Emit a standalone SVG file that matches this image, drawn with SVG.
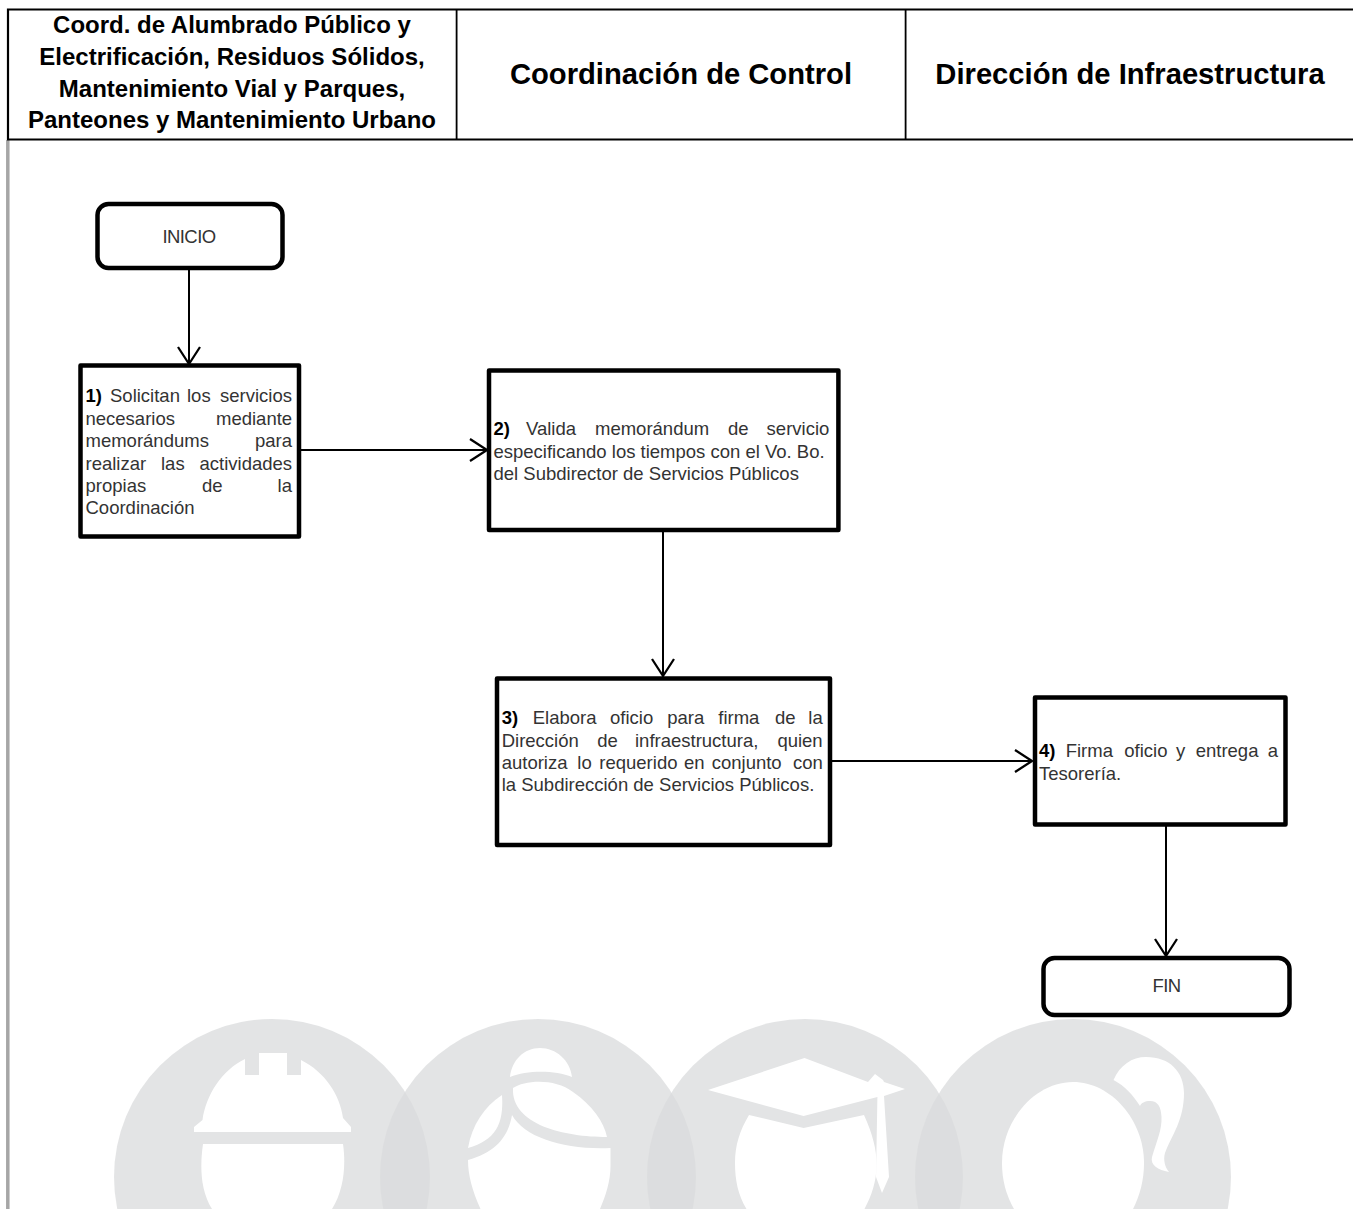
<svg xmlns="http://www.w3.org/2000/svg" width="1353" height="1209" viewBox="0 0 1353 1209">
<style>
text{font-family:"Liberation Sans",Arial,sans-serif}
.h{font-weight:700;fill:#000;text-anchor:middle}
.h1{font-size:24px}
.h2{font-size:29.200px}
.t{font-size:18.500px;fill:#333}
.c{font-size:18.500px;fill:#333;text-anchor:middle;letter-spacing:-.6px}
.n{font-weight:700;fill:#000}
.box{fill:#fff;stroke:#000;stroke-width:4.500;stroke-linejoin:round}
.w{fill:#fff}
.bg{fill:#dadbdc;fill-opacity:.75}
.conn{stroke:#000;stroke-width:2;fill:none;marker-end:url(#arr)}
</style>
<defs>
<marker id="arr" markerUnits="userSpaceOnUse" markerWidth="20" markerHeight="26" refX="18" refY="12" orient="auto" overflow="visible">
<path d="M1,1 L18,12 L1,23" fill="none" stroke="#000" stroke-width="2.300"/>
</marker>
</defs>
<rect width="1353" height="1209" fill="#fff"/>
<g id="watermark">
<circle class="bg" cx="272" cy="1177" r="158"/>
<circle class="bg" cx="538" cy="1177" r="158"/>
<circle class="bg" cx="805" cy="1177" r="158"/>
<circle class="bg" cx="1073" cy="1177" r="158"/>
<path class="w" d="M259,1053H287V1075H301V1060C325,1072 340,1095 343,1118L351,1127V1132H194V1127L202.500,1120C206,1095 222,1070 245,1059V1075H259Z"/>
<path class="w" d="M203,1144H343C346,1165 344,1190 332,1209H212C200,1190 200,1165 203,1144Z"/>
<path class="w" d="M510,1077C512,1060 524,1048 540,1048C556,1048 570,1060 572,1077C555,1070 527,1070 510,1077Z"/>
<path class="w" d="M513,1088C525,1080 555,1078 573,1092C592,1105 604,1122 607,1137C565,1137 511,1125 513,1088Z"/>
<path class="w" d="M502,1095C504,1125 495,1140 468,1148C472,1125 484,1107 502,1095Z"/>
<path class="w" d="M512,1115C525,1138 565,1150 610.500,1148V1163C611,1180 606,1195 600,1209H480.500C472,1190 468,1175 468,1160C495,1152 508,1138 512,1115Z"/>
<path class="w" d="M804.500,1058L868,1082L875,1074L883,1080L884,1082L905,1089L884,1096L889,1177L882,1193L876,1177L877.400,1097L803.600,1116L708,1090Z"/>
<path class="w" d="M749,1115L803.600,1128L864,1115C873,1135 876.500,1150 876.500,1163C877,1180 872,1195 864.500,1209H746.500C738,1195 735,1180 735,1163C735,1145 740,1130 749,1115Z"/>
<path class="w" d="M1002,1163C1002,1120 1035,1082 1073,1082C1111,1082 1144,1120 1144,1163C1144,1180 1140,1195 1133,1209H1014C1006,1195 1002,1180 1002,1163Z"/>
<path class="w" d="M1113.500,1080C1120,1065 1132,1057 1146,1057C1170,1057 1184,1072 1184,1093C1184,1120 1172,1135 1165,1153C1163,1160 1165,1167 1169,1172C1158,1170 1150,1165 1152,1157C1157,1140 1162,1130 1161.500,1117C1161,1107 1158,1101 1150,1101C1145,1101 1141,1103 1140,1106C1133,1095 1125,1086 1113.500,1080Z"/>
</g>
<path id="left-rule" d="M7.800,140V1209" stroke="#a6a6a6" stroke-width="3.500" fill="none"/>
<g id="header" fill="none" stroke="#000">
<path d="M1353,9.500H8V139.500H1353" stroke-width="2.200"/>
<path d="M456.600,10V139M905.600,10V139" stroke-width="1.800"/>
</g>
<g id="header-col1">
<text class="h h1" x="232" y="33">Coord. de Alumbrado Público y</text>
<text class="h h1" x="232" y="65">Electrificación, Residuos Sólidos,</text>
<text class="h h1" x="232" y="97">Mantenimiento Vial y Parques,</text>
<text class="h h1" x="232" y="128">Panteones y Mantenimiento Urbano</text>
</g>
<g id="header-col2"><text class="h h2" x="681" y="84">Coordinación de Control</text></g>
<g id="header-col3"><text class="h h2" x="1130" y="84">Dirección de Infraestructura</text></g>
<g id="connectors">
<path class="conn" d="M189,268V364"/>
<path class="conn" d="M300,450H487"/>
<path class="conn" d="M663,531V676"/>
<path class="conn" d="M832,761H1032"/>
<path class="conn" d="M1166,826V956"/>
</g>
<g id="inicio"><rect class="box" x="97.500" y="204" width="185" height="64" rx="11"/><text class="c" x="189" y="243">INICIO</text></g>
<g id="paso1"><rect class="box" x="80.500" y="365.500" width="218.500" height="171"/>
<text class="t" y="402"><tspan class="n" x="85.500">1)</tspan><tspan x="110">Solicitan</tspan><tspan x="187">los</tspan><tspan x="220">servicios</tspan></text>
<text class="t" y="425"><tspan x="85.500">necesarios</tspan><tspan x="216">mediante</tspan></text>
<text class="t" y="447"><tspan x="85.500">memorándums</tspan><tspan x="255">para</tspan></text>
<text class="t" y="470"><tspan x="85.500">realizar</tspan><tspan x="161">las</tspan><tspan x="199.500">actividades</tspan></text>
<text class="t" y="492"><tspan x="85.500">propias</tspan><tspan x="202">de</tspan><tspan x="277.600">la</tspan></text>
<text class="t" y="514"><tspan x="85.500">Coordinación</tspan></text>
</g>
<g id="paso2"><rect class="box" x="489" y="370.600" width="349.400" height="159.400"/>
<text class="t" y="435"><tspan class="n" x="493.500">2)</tspan><tspan x="526">Valida</tspan><tspan x="595">memorándum</tspan><tspan x="728">de</tspan><tspan x="766.600">servicio</tspan></text>
<text class="t" y="457.700" x="493.500">especificando los tiempos con el Vo. Bo.</text>
<text class="t" y="480" x="493.500">del Subdirector de Servicios Públicos</text>
</g>
<g id="paso3"><rect class="box" x="497" y="678.500" width="333" height="166.500"/>
<text class="t" y="724"><tspan class="n" x="501.700">3)</tspan><tspan x="532.700">Elabora</tspan><tspan x="610">oficio</tspan><tspan x="667.300">para</tspan><tspan x="718.300">firma</tspan><tspan x="775">de</tspan><tspan x="808.300">la</tspan></text>
<text class="t" y="746.700"><tspan x="501.700">Dirección</tspan><tspan x="597.300">de</tspan><tspan x="635">infraestructura,</tspan><tspan x="777.400">quien</tspan></text>
<text class="t" y="768.500"><tspan x="501.700">autoriza</tspan><tspan x="577.300">lo</tspan><tspan x="599.300">requerido</tspan><tspan x="684">en</tspan><tspan x="711.700">conjunto</tspan><tspan x="793">con</tspan></text>
<text class="t" y="791" x="501.700">la Subdirección de Servicios Públicos.</text>
</g>
<g id="paso4"><rect class="box" x="1035" y="697.500" width="250.500" height="127"/>
<text class="t" y="757.300"><tspan class="n" x="1039">4)</tspan><tspan x="1065.700">Firma</tspan><tspan x="1124.300">oficio</tspan><tspan x="1176">y</tspan><tspan x="1195.700">entrega</tspan><tspan x="1267.700">a</tspan></text>
<text class="t" y="780" x="1039">Tesorería.</text>
</g>
<g id="fin"><rect class="box" x="1043.500" y="958" width="246" height="57" rx="11"/><text class="c" x="1166.500" y="992.300">FIN</text></g>
</svg>
